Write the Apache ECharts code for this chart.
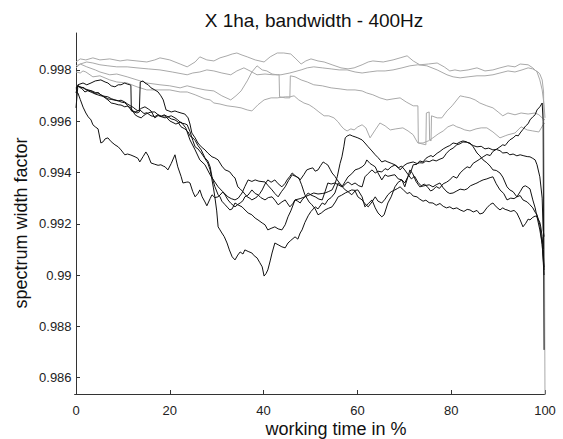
<!DOCTYPE html>
<html>
<head>
<meta charset="utf-8">
<script src="https://cdn.jsdelivr.net/npm/echarts@6/dist/echarts.min.js"></script>
<style>
  html, body { margin: 0; padding: 0; background: #fff; }
  #chart { width: 563px; height: 439px; }
</style>
</head>
<body>
<div id="chart"></div>
<script>
// Axis ticks
const xTicks = [0, 20, 40, 60, 80, 100];
const yTicks = [0.986, 0.988, 0.99, 0.992, 0.994, 0.996, 0.998];

// Reference runs (gray): [working time %, spectrum width factor]
const grayRun1 = [[0,0.99831],[0.9,0.99843],[2.1,0.99839],[3.6,0.99847],[5.1,0.99839],[7.2,0.99843],[9.4,0.99835],[10.9,0.99839],[13.0,0.99835],[15.1,0.99831],[16.8,0.99839],[17.9,0.99847],[20.0,0.99839],[22.2,0.99823],[23.7,0.99812],[25.4,0.99831],[26.4,0.99851],[27.9,0.99839],[29.4,0.99835],[30.7,0.99847],[32.2,0.99855],[33.3,0.99862],[34.3,0.99866],[35.4,0.99858],[36.5,0.99851],[38.2,0.99839],[40.1,0.99831],[41.4,0.99851],[42.9,0.99866],[44.3,0.99866],[45.8,0.99862],[46.9,0.99843],[48.0,0.99823],[49.0,0.99835],[50.1,0.99843],[51.6,0.99835],[52.9,0.99831],[54.6,0.9982],[56.5,0.99808],[58.0,0.99804],[59.3,0.99808],[61.0,0.9982],[62.3,0.99831],[63.3,0.99835],[65.5,0.99831],[67.6,0.99839],[69.1,0.99847],[70.6,0.99855],[71.9,0.99835],[73.3,0.9982],[75.1,0.99823],[77.0,0.99827],[78.5,0.99812],[79.7,0.99796],[80.8,0.998],[81.9,0.99796],[83.6,0.998],[85.5,0.99808],[87.2,0.99796],[88.9,0.998],[90.4,0.99808],[92.1,0.99816],[93.6,0.99812],[94.7,0.99823],[96.4,0.9982],[97.4,0.99808],[98.3,0.99792],[98.9,0.99761],[99.4,0.99722],[99.8,0.99664],[100,0.99613]];
const grayRun2 = [[0,0.99808],[0.9,0.99823],[2.3,0.99831],[3.6,0.99827],[5.1,0.9982],[6.8,0.99816],[8.7,0.99812],[10.9,0.99812],[13.0,0.99808],[15.4,0.99804],[17.9,0.998],[20.5,0.99792],[23.7,0.99781],[24.9,0.99788],[26.4,0.99792],[27.9,0.998],[29.4,0.99796],[31.1,0.99788],[33.0,0.99781],[34.3,0.99796],[35.8,0.99808],[37.1,0.99796],[38.6,0.99781],[40.3,0.99784],[42.0,0.99781],[43.7,0.99781],[45.6,0.99788],[48.0,0.998],[49.3,0.99808],[50.7,0.99812],[52.5,0.99808],[54.4,0.99804],[56.1,0.998],[57.8,0.998],[59.5,0.99792],[61.0,0.99788],[62.5,0.99792],[64.2,0.99796],[65.9,0.99796],[67.6,0.998],[69.5,0.99808],[71.2,0.99816],[72.9,0.9982],[74.8,0.99816],[77.0,0.998],[79.1,0.99781],[80.4,0.99773],[81.9,0.99769],[83.6,0.99773],[85.5,0.99777],[87.2,0.99777],[88.9,0.99781],[90.4,0.99788],[92.1,0.99796],[93.6,0.99792],[95.1,0.998],[96.4,0.99808],[97.4,0.99804],[98.5,0.99792],[98.9,0.99784],[99.4,0.99761],[99.7,0.99714],[99.85,0.99293],[100,0.985]];
const grayRun3 = [[0,0.99816],[0.9,0.99823],[2.3,0.99812],[4.1,0.998],[5.1,0.99792],[7.2,0.99781],[8.7,0.99784],[10.9,0.99773],[13.0,0.99761],[15.1,0.99749],[17.9,0.99742],[20.0,0.99738],[22.2,0.9973],[23.7,0.99738],[25.4,0.9973],[27.5,0.99722],[29.4,0.99718],[31.1,0.99699],[33.0,0.99683],[34.1,0.99699],[35.2,0.99718],[36.5,0.99757],[37.5,0.99792],[38.6,0.99816],[39.7,0.998],[40.7,0.99796],[41.8,0.99784],[42.9,0.99781],[43.3,0.99781],[43.4,0.99695],[44.6,0.99691],[45.6,0.99691],[45.7,0.99777],[46.7,0.99773],[48.0,0.99761],[49.3,0.99753],[50.7,0.99742],[52.5,0.99738],[54.4,0.9973],[56.3,0.99726],[57.8,0.99722],[59.5,0.99722],[61.0,0.99718],[62.0,0.9971],[63.3,0.99703],[64.8,0.99691],[66.3,0.99683],[67.6,0.99687],[69.1,0.99691],[70.4,0.99675],[71.9,0.9966],[72.9,0.9966],[73.0,0.99515],[74.6,0.99508],[74.7,0.99632],[75.3,0.99636],[75.4,0.99527],[75.7,0.99523],[75.8,0.99621],[77.0,0.99613],[78.0,0.99613],[79.1,0.9964],[80.2,0.9966],[81.9,0.99699],[82.9,0.99695],[84.0,0.99691],[85.1,0.99683],[86.1,0.99671],[87.6,0.9966],[88.9,0.99652],[90.0,0.99636],[91.0,0.99621],[92.1,0.99632],[93.6,0.99625],[94.9,0.99632],[96.4,0.99628],[97.9,0.99632],[98.7,0.99625],[99.4,0.99613],[100,0.99605]];
const grayRun4 = [[0,0.99792],[0.9,0.99788],[1.5,0.99796],[2.1,0.99792],[3.6,0.99773],[5.1,0.99777],[7.2,0.99761],[8.7,0.99753],[10.9,0.99749],[13.0,0.99734],[15.1,0.99722],[17.5,0.99722],[20.0,0.99722],[22.2,0.99714],[23.7,0.99714],[25.4,0.99703],[27.5,0.99687],[28.6,0.99683],[29.4,0.99671],[30.7,0.99667],[32.2,0.9966],[33.9,0.99656],[35.2,0.99652],[36.5,0.99644],[37.5,0.9964],[38.8,0.99664],[40.1,0.99683],[41.6,0.99691],[42.9,0.99691],[44.6,0.99695],[45.6,0.99695],[46.5,0.99699],[47.5,0.99683],[48.6,0.99671],[49.7,0.99664],[50.7,0.99652],[51.8,0.99636],[52.9,0.99621],[53.9,0.99621],[55.0,0.99613],[55.9,0.99597],[56.5,0.99582],[57.1,0.9957],[57.8,0.99562],[58.6,0.9957],[59.3,0.99566],[60.1,0.99578],[61.0,0.99586],[61.8,0.99574],[62.7,0.99535],[63.8,0.99566],[64.8,0.99593],[65.9,0.99582],[67.0,0.99566],[68.2,0.9957],[69.7,0.99574],[70.8,0.99562],[71.9,0.99547],[72.5,0.99527],[72.9,0.99515],[74.0,0.99515],[75.1,0.99523],[76.1,0.99535],[77.2,0.9955],[78.3,0.99562],[79.3,0.99578],[80.4,0.99586],[81.2,0.99578],[81.9,0.99574],[82.9,0.99566],[84.0,0.99562],[85.3,0.9957],[86.4,0.99574],[87.6,0.99574],[88.9,0.99558],[90.4,0.99535],[91.5,0.99543],[92.1,0.99547],[93.6,0.99554],[94.9,0.99578],[96.2,0.99566],[97.4,0.99562],[98.7,0.99558],[99.6,0.99586],[100,0.99593]];

// Test runs (black)
const blackRun1 = [[0,0.9971],[0.4,0.99742],[1.5,0.99749],[2.3,0.99742],[3.2,0.99749],[4.1,0.99757],[5.3,0.99761],[6.2,0.99753],[6.8,0.99749],[7.5,0.99738],[8.3,0.99734],[9.0,0.99742],[9.6,0.99742],[10.4,0.99749],[10.9,0.99745],[11.5,0.99742],[11.7,0.9974],[11.8,0.9964],[12.4,0.99636],[13.0,0.99632],[13.5,0.99636],[13.7,0.99753],[14.3,0.99757],[14.7,0.99749],[15.4,0.99742],[16.0,0.9973],[16.8,0.99722],[17.5,0.99714],[18.1,0.99699],[18.6,0.99683],[19.2,0.99644],[19.8,0.9964],[20.3,0.99636],[21.1,0.9964],[21.7,0.99636],[22.4,0.99632],[23.2,0.99628],[23.9,0.99613],[24.3,0.99589],[24.7,0.99554],[25.4,0.99535],[26.0,0.99515],[26.7,0.995],[27.5,0.99488],[28.1,0.99476],[29.0,0.99461],[29.6,0.99457],[30.3,0.99449],[31.1,0.99425],[31.8,0.9941],[32.4,0.99406],[32.8,0.99402],[33.5,0.99385],[33.9,0.99379],[34.5,0.99344],[35.0,0.99336],[35.6,0.99325],[36.0,0.99316],[36.5,0.99305],[37.1,0.99299],[37.5,0.99293],[38.2,0.993],[38.6,0.99305],[39.2,0.99318],[39.7,0.99332],[40.3,0.99355],[40.9,0.99371],[41.6,0.99362],[42.4,0.99371],[43.1,0.99356],[43.9,0.99344],[44.6,0.99358],[45.0,0.99371],[45.6,0.99385],[46.1,0.99398],[46.7,0.99388],[47.1,0.99383],[47.8,0.99371],[48.6,0.99392],[49.2,0.9941],[49.9,0.99415],[50.5,0.99418],[51.0,0.99405],[51.6,0.9941],[52.2,0.99428],[52.7,0.99441],[53.2,0.99435],[53.7,0.99429],[54.2,0.99412],[54.6,0.99398],[55.2,0.99385],[55.7,0.99371],[56.3,0.99356],[56.9,0.99344],[57.4,0.99355],[58.0,0.99363],[58.8,0.99352],[59.5,0.99359],[60.3,0.99348],[61.0,0.99344],[61.6,0.99383],[62.3,0.99396],[63.1,0.9941],[63.8,0.99398],[64.4,0.99405],[65.2,0.99402],[65.9,0.99415],[66.5,0.9941],[67.2,0.99422],[68.0,0.99429],[68.7,0.99418],[69.4,0.99425],[70.1,0.9941],[70.8,0.99392],[71.5,0.99375],[72.2,0.99385],[72.9,0.99362],[73.6,0.99348],[74.3,0.99355],[75.1,0.9934],[75.6,0.99328],[76.1,0.99332],[76.8,0.99345],[77.5,0.99338],[78.3,0.99356],[79.0,0.99362],[79.7,0.99371],[80.4,0.99385],[81.2,0.99378],[81.9,0.99398],[82.7,0.99412],[83.4,0.99422],[84.0,0.99418],[84.7,0.99436],[85.5,0.99445],[86.1,0.99452],[86.8,0.99461],[87.6,0.9947],[88.3,0.99466],[88.9,0.99482],[89.6,0.9949],[90.4,0.995],[91.0,0.99508],[91.5,0.99505],[92.1,0.99519],[92.5,0.99527],[93.2,0.99535],[93.8,0.99545],[94.3,0.99543],[94.7,0.99554],[95.3,0.99568],[95.9,0.99582],[96.4,0.9959],[96.8,0.99605],[97.4,0.99617],[97.9,0.99625],[98.3,0.99644],[98.9,0.99656],[99.4,0.99671],[99.6,0.996],[99.7,0.991],[99.8,0.98708]];
const blackRun2 = [[0,0.99725],[0.4,0.99738],[0.9,0.99734],[1.5,0.99722],[1.9,0.99714],[2.6,0.9972],[3.2,0.99718],[4.1,0.99708],[4.7,0.99712],[5.3,0.99703],[6.2,0.99694],[6.8,0.99687],[7.5,0.99685],[8.3,0.99682],[9.0,0.99679],[9.6,0.99682],[10.4,0.99675],[10.9,0.99668],[11.7,0.99659],[12.2,0.99654],[12.6,0.99648],[13.2,0.9964],[13.9,0.9965],[14.7,0.99656],[15.4,0.99648],[16.0,0.9964],[16.8,0.99613],[17.5,0.99622],[18.1,0.99618],[18.8,0.99625],[19.6,0.99617],[20.3,0.99621],[21.1,0.99613],[21.7,0.99605],[22.4,0.99593],[23.2,0.9959],[23.7,0.99586],[24.3,0.9956],[24.9,0.99525],[25.4,0.995],[26.0,0.99492],[26.7,0.99476],[27.3,0.9946],[28.1,0.99437],[28.6,0.9941],[29.0,0.99371],[29.3,0.9934],[29.6,0.99305],[30.0,0.9925],[30.3,0.99188],[30.7,0.99176],[31.1,0.99164],[31.6,0.9915],[32.2,0.99125],[32.7,0.99098],[33.3,0.99071],[33.9,0.99059],[34.5,0.99078],[35.0,0.9909],[35.6,0.99082],[36.0,0.99098],[36.7,0.99092],[37.5,0.99086],[38.0,0.99075],[38.6,0.99067],[39.2,0.99048],[39.7,0.99032],[40.1,0.98996],[40.5,0.99005],[40.9,0.9902],[41.4,0.99055],[41.8,0.99086],[42.4,0.99125],[43.1,0.99118],[43.9,0.9911],[44.6,0.99106],[45.2,0.99125],[45.8,0.99135],[46.7,0.99149],[47.3,0.9914],[47.8,0.99164],[48.2,0.99176],[48.8,0.99205],[49.5,0.99231],[50.1,0.99248],[51.0,0.99266],[51.6,0.99258],[52.5,0.99281],[53.1,0.99275],[53.7,0.99293],[54.4,0.99302],[55.2,0.9932],[55.9,0.99359],[56.5,0.9935],[57.4,0.99332],[58.0,0.99325],[58.8,0.99313],[59.5,0.99328],[60.1,0.99305],[61.0,0.99293],[61.6,0.99278],[62.3,0.99266],[63.1,0.99285],[63.8,0.99305],[64.4,0.99288],[65.2,0.99281],[65.9,0.99296],[66.5,0.99313],[67.2,0.99325],[68.0,0.99332],[68.6,0.99338],[69.1,0.99344],[69.8,0.99332],[70.6,0.99318],[71.2,0.99322],[71.9,0.99308],[72.7,0.99305],[73.3,0.99296],[74.0,0.99288],[74.6,0.99292],[75.3,0.99282],[76.1,0.99281],[76.8,0.99272],[77.6,0.99279],[78.3,0.99268],[79.0,0.99262],[79.7,0.99266],[80.4,0.99258],[81.2,0.99262],[81.9,0.99254],[82.7,0.99248],[83.4,0.99256],[84.0,0.99254],[84.7,0.99246],[85.5,0.99252],[86.1,0.99238],[86.8,0.99242],[87.6,0.99262],[88.3,0.99275],[88.9,0.99281],[89.6,0.99266],[90.4,0.99254],[91.0,0.99262],[91.5,0.99256],[91.9,0.99254],[92.7,0.99248],[93.4,0.99252],[94.0,0.99242],[94.7,0.99215],[95.3,0.99188],[95.9,0.99202],[96.4,0.99218],[96.8,0.99215],[97.4,0.99225],[97.9,0.9923],[98.3,0.99227],[98.9,0.99205],[99.1,0.99188],[99.4,0.9915],[99.6,0.99098],[99.8,0.9903]];
const blackRun3 = [[0,0.99652],[0.2,0.99695],[0.4,0.99738],[0.9,0.9973],[1.5,0.99732],[2.1,0.99725],[2.6,0.99722],[3.4,0.99718],[4.1,0.99712],[4.7,0.9971],[5.3,0.99703],[6.2,0.99691],[6.8,0.99683],[7.5,0.99671],[8.3,0.99668],[9.0,0.99664],[9.6,0.99663],[10.4,0.99656],[10.9,0.99659],[11.7,0.99652],[12.6,0.99625],[13.2,0.99618],[13.9,0.99613],[14.3,0.9962],[14.9,0.99628],[15.4,0.99632],[16.0,0.99636],[16.8,0.99636],[17.5,0.99625],[18.1,0.99618],[19.0,0.99613],[19.6,0.99617],[20.3,0.99609],[21.1,0.99605],[21.7,0.99598],[22.4,0.99578],[23.2,0.9957],[23.9,0.99558],[24.3,0.99543],[24.9,0.99535],[25.4,0.99525],[26.0,0.99505],[26.7,0.99488],[27.5,0.99457],[28.1,0.99445],[28.6,0.99422],[29.0,0.99383],[29.6,0.99345],[30.3,0.99313],[30.7,0.99305],[31.1,0.99288],[31.8,0.99274],[32.4,0.99262],[32.8,0.99254],[33.3,0.99258],[33.9,0.99281],[34.5,0.99274],[35.4,0.99266],[35.8,0.99258],[36.7,0.99242],[37.5,0.99235],[38.2,0.99222],[38.8,0.99215],[39.7,0.99203],[40.3,0.99196],[40.9,0.99176],[41.6,0.99182],[42.4,0.99188],[43.1,0.9918],[43.9,0.99176],[44.6,0.99196],[45.2,0.99227],[45.8,0.9925],[46.7,0.99293],[47.3,0.99288],[47.8,0.99281],[48.2,0.99293],[48.8,0.99305],[49.5,0.9932],[50.1,0.99312],[51.0,0.99305],[51.8,0.99296],[52.5,0.99293],[53.1,0.99325],[53.7,0.99359],[54.4,0.99355],[55.2,0.99359],[55.9,0.99352],[56.7,0.99344],[57.4,0.99365],[58.0,0.99383],[58.8,0.99395],[59.5,0.9941],[60.3,0.99415],[61.0,0.99422],[61.6,0.99432],[62.0,0.99449],[62.7,0.99435],[63.3,0.99428],[63.8,0.99422],[64.4,0.99398],[65.2,0.99371],[65.9,0.99391],[66.5,0.99385],[67.6,0.9939],[68.0,0.99391],[68.7,0.99375],[69.5,0.99371],[70.1,0.99359],[70.8,0.99385],[71.2,0.99392],[71.9,0.9943],[72.7,0.99432],[73.3,0.99445],[74.0,0.99441],[74.6,0.99455],[75.1,0.99461],[75.7,0.99466],[76.1,0.99461],[77.0,0.99475],[77.6,0.99482],[78.3,0.99492],[79.1,0.995],[79.7,0.99505],[80.4,0.99515],[81.2,0.99512],[81.9,0.99519],[82.5,0.99523],[83.2,0.9952],[84.0,0.99512],[84.7,0.99505],[85.5,0.995],[86.4,0.99502],[87.2,0.99492],[88.0,0.99495],[88.9,0.99488],[89.6,0.9949],[90.4,0.99485],[91.0,0.99476],[91.9,0.99478],[92.5,0.99469],[93.2,0.99472],[94.0,0.99465],[94.7,0.99469],[95.5,0.99465],[96.2,0.99462],[96.8,0.99461],[97.4,0.99455],[97.9,0.99449],[98.3,0.9943],[98.9,0.99383],[99.4,0.993],[99.6,0.99176],[99.8,0.9915]];
const blackRun4 = [[0,0.99714],[0.4,0.9971],[0.9,0.99685],[1.5,0.99655],[2.1,0.99632],[2.6,0.99617],[3.2,0.99605],[3.6,0.99586],[4.1,0.99578],[4.7,0.9957],[5.3,0.99515],[5.8,0.9952],[6.2,0.99531],[6.8,0.99535],[7.5,0.9952],[8.3,0.99508],[9.0,0.995],[9.6,0.99488],[10.4,0.99469],[11.0,0.99472],[11.7,0.99468],[12.6,0.99461],[13.2,0.99455],[13.6,0.99441],[14.3,0.99462],[14.9,0.9948],[15.4,0.99465],[16.0,0.99437],[16.8,0.99432],[17.5,0.99428],[18.1,0.9943],[18.6,0.99425],[19.0,0.99422],[19.6,0.9941],[20.3,0.99435],[21.1,0.99469],[21.7,0.99422],[22.4,0.99385],[22.8,0.99359],[23.5,0.99362],[23.9,0.99363],[24.3,0.99359],[24.9,0.99325],[25.4,0.99305],[26.0,0.99318],[26.4,0.99332],[26.9,0.99305],[27.5,0.99285],[27.9,0.9927],[28.6,0.99298],[29.0,0.99313],[29.6,0.99302],[30.3,0.99305],[30.7,0.99312],[31.3,0.99324],[31.8,0.99312],[32.4,0.99293],[33.0,0.9928],[33.9,0.99266],[34.5,0.99275],[35.0,0.99281],[35.6,0.9929],[36.0,0.99305],[36.7,0.99312],[37.5,0.99332],[38.2,0.99318],[38.8,0.99313],[39.4,0.99302],[40.3,0.99293],[41.0,0.99302],[41.8,0.99305],[42.4,0.99292],[43.1,0.99274],[43.9,0.99285],[44.6,0.99293],[45.0,0.99282],[45.6,0.99266],[46.2,0.99278],[46.7,0.99293],[47.8,0.99298],[48.8,0.99305],[49.7,0.99312],[50.7,0.9932],[51.6,0.99316],[52.5,0.99318],[53.1,0.9932],[53.9,0.99326],[54.6,0.99332],[55.2,0.99355],[55.7,0.99383],[56.3,0.99435],[56.7,0.99461],[57.1,0.995],[57.4,0.99535],[57.8,0.99542],[58.4,0.99547],[59.0,0.99542],[59.5,0.99539],[60.1,0.99535],[61.0,0.99527],[61.6,0.99515],[62.3,0.995],[63.1,0.99484],[63.8,0.99469],[64.4,0.99458],[65.2,0.99441],[65.9,0.99446],[66.5,0.99441],[67.2,0.99436],[68.0,0.9943],[68.6,0.99422],[69.1,0.9941],[69.8,0.99425],[70.6,0.99435],[71.2,0.99438],[71.9,0.99441],[72.7,0.99435],[73.3,0.99438],[74.0,0.99437],[74.6,0.99445],[75.3,0.99442],[76.1,0.99449],[76.8,0.99445],[77.6,0.99452],[78.3,0.99457],[79.0,0.99475],[79.7,0.99488],[80.4,0.99495],[81.2,0.99508],[81.9,0.99512],[82.5,0.99519],[83.2,0.99518],[84.0,0.99515],[84.7,0.995],[85.5,0.99476],[86.1,0.99465],[86.8,0.99449],[87.6,0.99438],[88.3,0.99425],[88.9,0.9941],[89.6,0.99408],[90.4,0.99398],[91.0,0.99382],[91.9,0.99344],[92.5,0.99332],[93.2,0.99325],[94.0,0.99305],[94.7,0.9931],[95.3,0.99293],[96.2,0.99285],[96.8,0.99274],[97.4,0.99262],[97.9,0.99245],[98.3,0.99235],[98.9,0.99196],[99.4,0.9912],[99.6,0.99059],[99.8,0.99]];
const blackRun5 = [[0,0.9973],[0.4,0.99738],[1.5,0.9973],[2.6,0.99718],[3.4,0.99712],[4.1,0.99706],[5.3,0.99699],[6.2,0.99697],[6.8,0.99695],[7.5,0.99688],[8.3,0.99683],[9.0,0.9968],[9.6,0.99675],[10.4,0.99672],[11.1,0.9966],[11.7,0.99644],[12.6,0.99636],[13.6,0.99644],[14.5,0.9963],[15.1,0.99633],[16.0,0.99621],[16.8,0.99618],[17.5,0.99625],[18.2,0.9962],[19.0,0.99621],[20.0,0.99601],[21.3,0.99589],[22.4,0.99597],[23.4,0.99574],[24.3,0.99527],[25.4,0.99488],[26.4,0.99449],[27.5,0.9943],[28.6,0.99391],[29.6,0.99363],[30.3,0.99344],[31.3,0.99325],[32.4,0.99305],[33.1,0.99298],[33.9,0.99293],[34.6,0.993],[35.4,0.9932],[36.0,0.99345],[36.7,0.99371],[37.5,0.99365],[38.2,0.99371],[39.0,0.99366],[40.3,0.99363],[41.0,0.99348],[41.8,0.99332],[42.4,0.99318],[43.1,0.99305],[43.8,0.99325],[44.6,0.99344],[45.3,0.99368],[46.1,0.99391],[46.8,0.99385],[47.5,0.99379],[48.1,0.99352],[48.8,0.99313],[49.7,0.99285],[50.3,0.99274],[51.0,0.99258],[51.6,0.99235],[52.3,0.99242],[53.1,0.99254],[53.8,0.9926],[54.6,0.99266],[55.3,0.99285],[55.9,0.99305],[56.6,0.99311],[57.4,0.9932],[58.1,0.99326],[58.8,0.99332],[59.5,0.9933],[60.1,0.99332],[61.0,0.99305],[61.6,0.99266],[62.3,0.99278],[63.1,0.99293],[63.8,0.99262],[64.4,0.99242],[65.2,0.99227],[65.7,0.99235],[66.5,0.99281],[67.2,0.99305],[68.0,0.99344],[68.7,0.99362],[69.5,0.99371],[70.1,0.99344],[70.8,0.99385],[71.2,0.9941],[71.8,0.99395],[72.5,0.99365],[73.3,0.99344],[74.2,0.99348],[75.3,0.99352],[76.1,0.99344],[76.8,0.99352],[77.6,0.99359],[78.3,0.9934],[79.1,0.99324],[79.7,0.99318],[80.4,0.9932],[81.2,0.99328],[81.9,0.99335],[82.8,0.99332],[83.4,0.99336],[84.1,0.99348],[85.1,0.99356],[85.5,0.99359],[86.1,0.99365],[86.8,0.99371],[87.6,0.99375],[88.3,0.9938],[88.9,0.99383],[89.6,0.99356],[90.4,0.99332],[91.2,0.99318],[91.9,0.99293],[92.7,0.993],[93.4,0.99298],[94.0,0.99305],[94.7,0.99325],[95.3,0.99344],[95.8,0.99348],[96.2,0.99344],[96.8,0.99336],[97.4,0.99293],[97.9,0.99262],[98.3,0.99227],[98.9,0.99176],[99.4,0.9912],[99.6,0.99071],[99.8,0.9902]];

const FONT = '"Liberation Sans", Arial, Helvetica, sans-serif';
const GRAY = '#a9a9a9';
const BLACK = '#111111';

function run(data, color) {
  return {
    type: 'line',
    data: data,
    symbol: 'none',
    showSymbol: false,
    silent: true,
    clip: true,
    animation: false,
    emphasis: { disabled: true },
    lineStyle: { color: color, width: 1 },
    z: color === BLACK ? 3 : 2
  };
}

const chart = echarts.init(document.getElementById('chart'), null, { renderer: 'svg' });
chart.setOption({
  animation: false,
  backgroundColor: '#ffffff',
  title: {
    text: 'X 1ha, bandwidth - 400Hz',
    left: 309,
    textAlign: 'center',
    top: 6,
    textStyle: { fontFamily: FONT, fontSize: 19, fontWeight: 'normal', color: '#111' }
  },
  grid: { left: 74.6, right: 18, top: 33, bottom: 45, containLabel: false, outerBoundsMode: 'none' },
  xAxis: {
    type: 'value',
    min: -0.3,
    max: 100,
    axisLine: { show: true, lineStyle: { color: '#333', width: 1 } },
    axisTick: { show: true, inside: true, length: 4, customValues: xTicks, lineStyle: { color: '#333' } },
    axisLabel: { customValues: xTicks, margin: 10, fontFamily: FONT, fontSize: 13, color: '#222' },
    splitLine: { show: false }
  },
  yAxis: {
    type: 'value',
    min: 0.98536,
    max: 0.99944,
    axisLine: { show: true, lineStyle: { color: '#333', width: 1 } },
    axisTick: { show: true, inside: true, length: 4, customValues: yTicks, lineStyle: { color: '#333' } },
    axisLabel: { customValues: yTicks, margin: 3, fontFamily: FONT, fontSize: 13, color: '#222' },
    splitLine: { show: false }
  },
  graphic: [
    {
      type: 'text', x: 336, y: 429, silent: true,
      style: { text: 'working time in %', fontFamily: FONT, fontSize: 18, fill: '#111',
               align: 'center', verticalAlign: 'middle', textAlign: 'center', textVerticalAlign: 'middle' }
    },
    {
      type: 'text', x: 21, y: 223, rotation: Math.PI / 2, silent: true,
      style: { text: 'spectrum width factor', fontFamily: FONT, fontSize: 18, fill: '#111',
               align: 'center', verticalAlign: 'middle', textAlign: 'center', textVerticalAlign: 'middle' }
    }
  ],
  series: [
    run(grayRun1, GRAY), run(grayRun2, GRAY), run(grayRun3, GRAY), run(grayRun4, GRAY),
    run(blackRun1, BLACK), run(blackRun2, BLACK), run(blackRun3, BLACK), run(blackRun4, BLACK), run(blackRun5, BLACK)
  ]
});
</script>
</body>
</html>
